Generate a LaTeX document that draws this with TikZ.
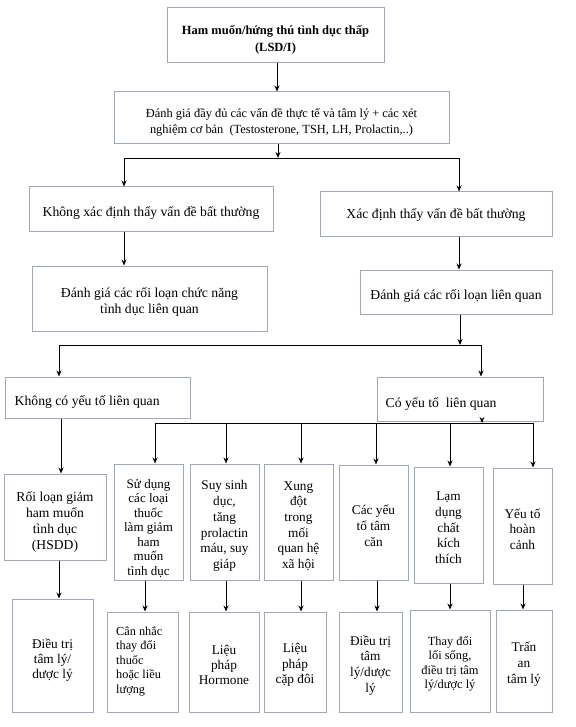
\documentclass[tikz,border=0pt]{standalone}
\usepackage{fontspec}
\setmainfont{Liberation Serif}
\usetikzlibrary{arrows.meta,calc}
\definecolor{bordercol}{RGB}{160,168,180}
\tikzset{
  box/.style={draw=bordercol, line width=1pt, inner sep=0pt},
  txt/.style={inner sep=0pt, align=center},
  arr/.style={draw=black, line width=0.9pt, -{Stealth[length=6pt,width=5pt]}},
  ln/.style={draw=black, line width=0.9pt},
}
% name, cx, cy, w, h, text style, dy, text
\newcommand\bx[8]{%
  \node[box, minimum width=#4pt, minimum height=#5pt] (#1) at (#2,#3) {};
  \node[txt, #6] (#1t) at ($(#1.center)+(0,#7)$) {#8};}
\begin{document}
\begin{tikzpicture}[x=1pt,y=-1pt]
\useasboundingbox (0,0) rectangle (575,727);
\fill[white] (0,0) rectangle (575,727);

\bx{b1}{275.5}{35.5}{217}{55}{font=\fontsize{12.5}{17}\selectfont\bfseries}{4.5}
  {Ham muốn/hứng thú tình dục thấp\\(LSD/I)}
\bx{b2}{281.5}{118}{335}{52}{font=\fontsize{12.4}{16}\selectfont}{4.5}
  {Đánh giá đầy đủ các vấn đề thực tế và tâm lý + các xét\\nghiệm cơ bản~ (Testosterone, TSH, LH, Prolactin,..)}

\bx{b3L}{151}{209}{244}{44}{font=\fontsize{13.7}{16}\selectfont}{4.5}{Không xác định thấy vấn đề bất thường}
\bx{b3R}{436}{214}{232}{44}{font=\fontsize{13.7}{16}\selectfont}{1.5}{Xác định thấy vấn đề bất thường}

\bx{b4L}{149.5}{298.5}{235}{65}{font=\fontsize{13.7}{16.5}\selectfont}{3.5}{Đánh giá các rối loạn chức năng\\tình dục liên quan}
\bx{b4R}{456}{292}{192}{44}{font=\fontsize{13.7}{16}\selectfont}{4}{Đánh giá các rối loạn liên quan}

\node[box, minimum width=185pt, minimum height=41pt] (b5L) at (98,397.5) {};
\node[txt, anchor=west, font=\fontsize{13.7}{16}\selectfont] (b5Lt) at ($(b5L.west)+(9.5,4.5)$) {Không có yếu tố liên quan};
\node[box, minimum width=166pt, minimum height=44pt] (b5R) at (460,399) {};
\node[txt, anchor=west, font=\fontsize{13.7}{16}\selectfont] (b5Rt) at ($(b5R.west)+(9,5)$) {Có yếu tố~ liên quan};

% row 6
\bx{rA}{55}{517}{102}{86}{font=\fontsize{13.6}{16}\selectfont}{5}{Rối loạn giảm\\ham muốn\\tình dục\\(HSDD)}
\bx{rB}{148.5}{522}{69}{116}{font=\fontsize{13}{14.5}\selectfont}{6.5}{Sử dụng\\các loại\\thuốc\\làm giảm\\ham\\muốn\\tình dục}
\bx{rC}{224.5}{522}{69}{116}{font=\fontsize{13.3}{15.7}\selectfont}{4}{Suy sinh\\dục,\\tăng\\prolactin\\máu, suy\\giáp}
\bx{rD}{298.5}{522}{69}{116}{font=\fontsize{13.3}{15.7}\selectfont}{4}{Xung\\đột\\trong\\mối\\quan hệ\\xã hội}
\bx{rE}{373.5}{522.5}{69}{115}{font=\fontsize{13.3}{16}\selectfont}{3.5}{Các yếu\\tố tâm\\căn}
\bx{rF}{448.5}{525}{69}{116}{font=\fontsize{13.3}{15.7}\selectfont}{3}{Lạm\\dụng\\chất\\kích\\thích}
\bx{rG}{522.5}{526}{59}{116}{font=\fontsize{13.3}{15.7}\selectfont}{3}{Yếu tố\\hoàn\\cảnh}

% row 7
\bx{tA}{52.5}{655.5}{81}{113}{font=\fontsize{13.3}{15.3}\selectfont}{4.5}{Điều trị\\tâm lý/\\dược lý}
\node[box, minimum width=71pt, minimum height=100pt] (tB) at (142.5,662) {};
\node[txt, align=left, anchor=west, font=\fontsize{12.3}{14.5}\selectfont] (tBt) at ($(tB.west)+(9.5,-1)$) {Cân nhắc\\thay đổi\\thuốc\\hoặc liều\\lượng};
\bx{tC}{224}{662}{70}{100}{font=\fontsize{13.3}{15.3}\selectfont}{3}{Liệu\\pháp\\Hormone}
\bx{tD}{295}{662}{62}{100}{font=\fontsize{13.3}{15.3}\selectfont}{3}{Liệu\\pháp\\cặp đôi}
\bx{tE}{370.5}{662}{63}{100}{font=\fontsize{13.3}{15.8}\selectfont}{3.5}{Điều trị\\tâm\\lý/dược\\lý}
\bx{tF}{450}{661}{80}{102}{font=\fontsize{12.4}{14.5}\selectfont}{3}{Thay đổi\\lối sống,\\điều trị tâm\\lý/dược lý}
\bx{tG}{524}{661}{56}{102}{font=\fontsize{13.3}{15.8}\selectfont}{3}{Trấn\\an\\tâm lý}

% junction coordinates
\coordinate (x1) at (277,0);
\coordinate (j1) at (278,158);
\coordinate (jL) at (124,158);
\coordinate (jR) at (459,158);
\coordinate (j2) at (460,345);
\coordinate (kL) at (59,345);
\coordinate (kR) at (481,345);
\coordinate (xA) at (61,0);
\coordinate (j3) at (482,423);
\coordinate (mB) at (155,423);
\coordinate (mC) at (226,423);
\coordinate (mD) at (301,423);
\coordinate (mE) at (376,423);
\coordinate (mF) at (450,423);
\coordinate (mG) at (533,423);
\coordinate (pA) at (59,0);
\coordinate (pB) at (145,0);
\coordinate (pC) at (226,0);
\coordinate (pD) at (301,0);
\coordinate (pE) at (377,0);
\coordinate (pF) at (450,0);
\coordinate (pG) at (523,0);

\draw[arr] (x1 |- b1.south) -- (x1 |- b2.north);
\draw[arr] (j1 |- b2.south) -- (j1);
\draw[ln] (jL) -- (jR);
\draw[arr] (jL) -- (jL |- b3L.north);
\draw[arr] (jR) -- (jR |- b3R.north);
\draw[arr] (jL |- b3L.south) -- (jL |- b4L.north);
\draw[arr] (jR |- b3R.south) -- (jR |- b4R.north);
\draw[arr] (j2 |- b4R.south) -- (j2);
\draw[ln] (kL) -- (kR);
\draw[arr] (kL) -- (kL |- b5L.north);
\draw[arr] (kR) -- (kR |- b5R.north);
\draw[arr] (xA |- b5L.south) -- (xA |- rA.north);
\draw[arr] (j3 |- b5R.south) -- (j3);
\draw[ln] (mB) -- (mG);
\draw[arr] (mB) -- (mB |- rB.north);
\draw[arr] (mC) -- (mC |- rC.north);
\draw[arr] (mD) -- (mD |- rD.north);
\draw[arr] (mE) -- (mE |- rE.north);
\draw[arr] (mF) -- (mF |- rF.north);
\draw[arr] (mG) -- (mG |- rG.north);
\draw[arr] (pA |- rA.south) -- (pA |- tA.north);
\draw[arr] (pB |- rB.south) -- (pB |- tB.north);
\draw[arr] (pC |- rC.south) -- (pC |- tC.north);
\draw[arr] (pD |- rD.south) -- (pD |- tD.north);
\draw[arr] (pE |- rE.south) -- (pE |- tE.north);
\draw[arr] (pF |- rF.south) -- (pF |- tF.north);
\draw[arr] (pG |- rG.south) -- (pG |- tG.north);
\end{tikzpicture}
\end{document}
